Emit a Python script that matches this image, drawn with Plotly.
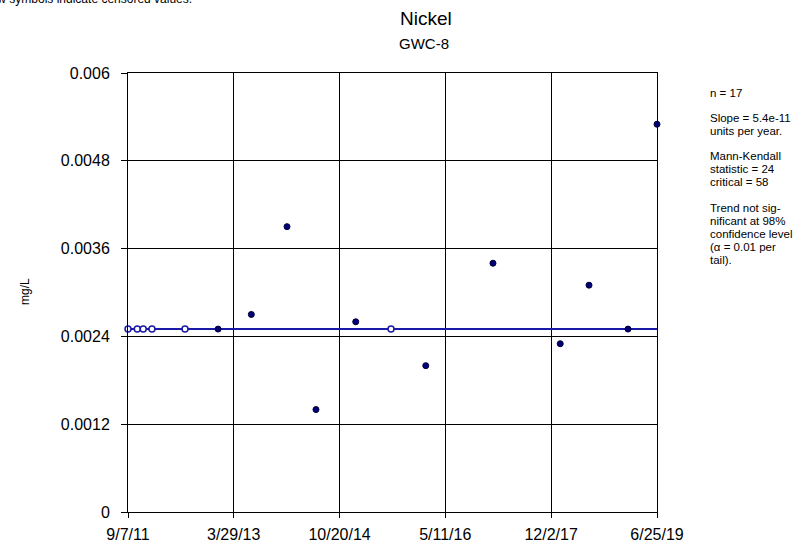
import plotly.graph_objects as go

# Sample dates and nickel concentrations (mg/L)
dates = ["2011-09-07", "2011-10-27", "2011-11-28", "2012-01-14", "2012-07-10",
         "2013-01-04", "2013-07-02", "2014-01-10", "2014-06-15", "2015-01-15",
         "2015-07-24", "2016-01-27", "2017-01-23", "2018-01-20", "2018-06-24",
         "2019-01-20", "2019-06-25"]
values = [0.0025, 0.0025, 0.0025, 0.0025, 0.0025,
          0.0025, 0.0027, 0.0039, 0.0014, 0.0026,
          0.0025, 0.0020, 0.0034, 0.0023, 0.0031,
          0.0025, 0.0053]
censored = [True, True, True, True, True,
            False, False, False, False, False,
            True, False, False, False, False,
            False, False]

# Sen's slope trend line
trend_dates = ["2011-09-07", "2019-06-25"]
trend_values = [0.0025, 0.0025]

x_tick_dates = ["2011-09-07", "2013-03-29", "2014-10-20", "2016-05-11", "2017-12-02", "2019-06-25"]
x_tick_labels = ["9/7/11", "3/29/13", "10/20/14", "5/11/16", "12/2/17", "6/25/19"]
y_tick_vals = [0, 0.0012, 0.0024, 0.0036, 0.0048, 0.006]
y_tick_labels = ["0", "0.0012", "0.0024", "0.0036", "0.0048", "0.006"]

# Trend statistics panel, one entry per printed line (pixel row of each line)
stats_lines = ["n = 17", "Slope = 5.4e-11", "units per year.",
               "Mann-Kendall", "statistic = 24", "critical = 58",
               "Trend not sig-", "nificant at 98%", "confidence level",
               "(\u03b1 = 0.01 per", "tail)."]
stats_rows = [93, 118, 131, 156, 169, 182, 208, 221, 234, 247, 260]

PLOT_L, PLOT_R, PLOT_T, PLOT_B = 128, 657, 73, 512
W, H = 806, 546


def px_x(px):
    return (px - PLOT_L) / (PLOT_R - PLOT_L)


def px_y(py):
    return (PLOT_B - py) / (PLOT_B - PLOT_T)


fig = go.Figure()

fig.add_trace(go.Scatter(
    x=trend_dates, y=trend_values, mode="lines",
    line=dict(color="#1a1aa6", width=2), hoverinfo="skip", showlegend=False))

det_x = [d for d, c in zip(dates, censored) if not c]
det_y = [v for v, c in zip(values, censored) if not c]
cen_x = [d for d, c in zip(dates, censored) if c]
cen_y = [v for v, c in zip(values, censored) if c]

fig.add_trace(go.Scatter(
    x=det_x, y=det_y, mode="markers",
    marker=dict(size=6, color="#00007a", line=dict(color="#000030", width=1)),
    showlegend=False, cliponaxis=False))
fig.add_trace(go.Scatter(
    x=cen_x, y=cen_y, mode="markers",
    marker=dict(size=6, color="white", line=dict(color="#1a1aa6", width=1.5)),
    showlegend=False, cliponaxis=False))

font_family = "Liberation Sans, Arial, sans-serif"

fig.update_layout(
    width=W, height=H,
    margin=dict(l=PLOT_L, r=W - PLOT_R, t=PLOT_T, b=H - PLOT_B),
    paper_bgcolor="white", plot_bgcolor="white",
    font=dict(family=font_family, color="black", size=16),
    xaxis=dict(
        type="date", range=["2011-09-07", "2019-06-25"],
        tickvals=x_tick_dates, ticktext=x_tick_labels,
        showgrid=True, gridcolor="black", gridwidth=1,
        showline=True, linecolor="black", linewidth=1, mirror=True,
        ticks="outside", ticklen=5, tickcolor="black",
        ticklabelstandoff=3, automargin=False,
        tickfont=dict(size=16), zeroline=False),
    yaxis=dict(
        range=[0, 0.006],
        tickvals=y_tick_vals, ticktext=y_tick_labels,
        showgrid=True, gridcolor="black", gridwidth=1,
        showline=True, linecolor="black", linewidth=1, mirror=True,
        ticks="outside", ticklen=6, tickcolor="black",
        ticklabelstandoff=8, automargin=False,
        tickfont=dict(size=16), zeroline=False),
)

# Chart title and well name
fig.add_annotation(text="Nickel", xref="paper", yref="paper",
                   x=px_x(426), y=px_y(19), showarrow=False,
                   font=dict(size=19), xanchor="center", yanchor="middle")
fig.add_annotation(text="GWC-8", xref="paper", yref="paper",
                   x=px_x(424), y=px_y(44), showarrow=False,
                   font=dict(size=15), xanchor="center", yanchor="middle")

# Y axis unit label
fig.add_annotation(text="mg/L", xref="paper", yref="paper",
                   x=px_x(25), y=px_y(292), showarrow=False, textangle=-90,
                   font=dict(size=12), xanchor="center", yanchor="middle")

# Censoring note in the top-left corner
fig.add_annotation(text="Hollow symbols indicate censored values.",
                   xref="paper", yref="paper",
                   x=px_x(194), y=px_y(-1),
                   xanchor="right", yanchor="middle", showarrow=False,
                   font=dict(size=12))

for line, row in zip(stats_lines, stats_rows):
    fig.add_annotation(text=line, xref="paper", yref="paper",
                       x=px_x(708), y=px_y(row),
                       xanchor="left", yanchor="middle", align="left",
                       showarrow=False, font=dict(size=11.5))

fig.write_html("out.html")
